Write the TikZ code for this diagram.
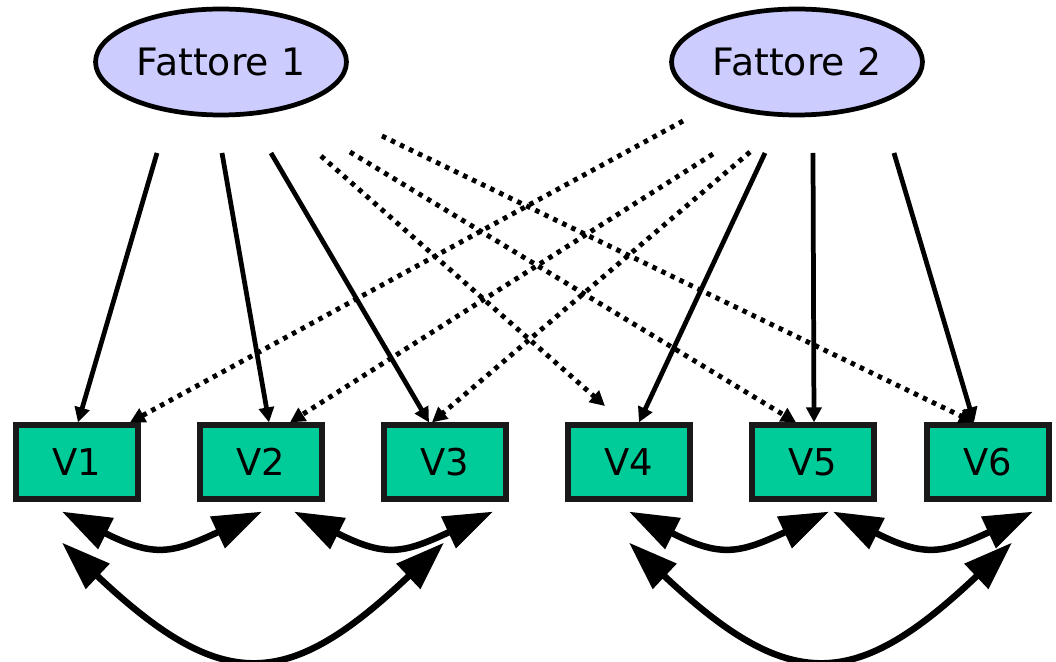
\documentclass[tikz,border=0pt]{standalone}
\usepackage{fontspec}
\setmainfont{DejaVu Sans}
\usepackage{tikz}
\usetikzlibrary{shapes.geometric,arrows.meta,calc}
\definecolor{lilla}{RGB}{204,204,255}
\definecolor{verde}{RGB}{0,204,153}
\begin{document}
\begin{tikzpicture}[x=0.02cm,y=-0.02cm,
    fattore/.style={ellipse,draw,line width=2.7pt,fill=lilla,minimum width=5.02cm,minimum height=2.12cm,inner sep=0pt,font=\fontsize{21.5}{25}\selectfont},
    var/.style={rectangle,draw=black!90,line width=3pt,fill=verde,minimum width=2.44cm,minimum height=1.48cm,inner sep=0pt,font=\fontsize{21}{25}\selectfont},
    carico/.style={-{Triangle[length=8.5pt,width=8.5pt]},line width=2.7pt},
    incrocio/.style={carico,line width=2.8pt,dash pattern=on 2.6pt off 3.1pt},
    covar/.style={{Triangle[length=28pt,width=19pt]}-{Triangle[length=28pt,width=19pt]},line width=3.7pt}]
            \useasboundingbox (0,0) rectangle (1056,662);
            \node[fattore] (f1) at (221,62) {Fattore 1};
            \node[fattore] (f2) at (797,62) {Fattore 2};
            \node[var] (v1) at (77,462) {V1};
            \node[var] (v2) at (261,462) {V2};
            \node[var] (v3) at (445,462) {V3};
            \node[var] (v4) at (629,462) {V4};
            \node[var] (v5) at (813,462) {V5};
            \node[var] (v6) at (988,462) {V6};
            \coordinate (a1) at (157,153);
            \coordinate (a2) at (222,153);
            \coordinate (a3) at (271,153);
            \coordinate (a4) at (321,156);
            \coordinate (a5) at (350,152);
            \coordinate (a6) at (382,136);
            \coordinate (b1) at (683,121);
            \coordinate (b2) at (713,154);
            \coordinate (b3) at (750,152);
            \coordinate (b4) at (765,153);
            \coordinate (b5) at (813,153);
            \coordinate (b6) at (894,153);
            \coordinate (p4) at (605,406);
            \draw [carico] (a1) -- ($(v1.north)+(1,0)$);
            \draw [carico] (a2) -- ($(v2.north)+(8,0)$);
            \draw [carico] (a3) -- ($(v3.north)+(-16,0)$);
            \draw [incrocio] (a4) -- (p4);
            \draw [incrocio] (a5) -- ($(v5.north)+(-17,0)$);
            \draw [incrocio] (a6) -- ($(v6.north)+(-14,0)$);
            \draw [incrocio] (b1) -- ($(v1.north)+(53,0)$);
            \draw [incrocio] (b2) -- ($(v2.north)+(29,0)$);
            \draw [incrocio] (b3) -- ($(v3.north)+(-13,0)$);
            \draw [carico] (b4) -- ($(v4.north)+(10,0)$);
            \draw [carico] (b5) -- ($(v5.north)+(1,0)$);
            \draw [carico] (b6) -- ($(v6.north)+(-14,0)$);
            \draw [covar] ($(v1.south)+(-15,10)$) .. controls +(92,46) and +(-90,42) .. ($(v2.south)+(1,10)$);
            \draw [covar] ($(v2.south)+(33,10)$) .. controls +(92,46) and +(-90,42) .. ($(v3.south)+(48,10)$);
            \draw [covar] ($(v1.south)+(-15,41)$) .. controls +(161,152) and +(-156,148) .. ($(v3.south)+(-1,41)$);
            \draw [covar] ($(v4.south)+(0,10)$) .. controls +(92,46) and +(-90,42) .. ($(v5.south)+(16,10)$);
            \draw [covar] ($(v5.south)+(20,10)$) .. controls +(92,46) and +(-90,42) .. ($(v6.south)+(45,10)$);
            \draw [covar] ($(v4.south)+(0,41)$) .. controls +(161,152) and +(-156,148) .. ($(v6.south)+(24,41)$);
        \end{tikzpicture}
\end{document}
